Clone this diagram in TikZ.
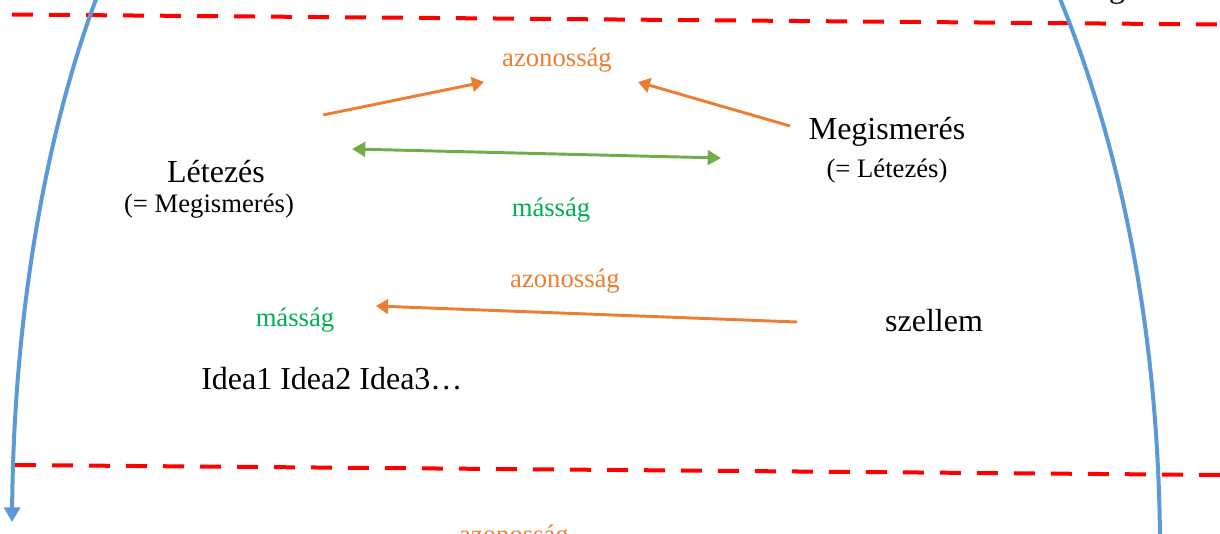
\documentclass[tikz,border=0pt]{standalone}
\usepackage{fontspec}
\setmainfont{Liberation Serif}
\usetikzlibrary{arrows.meta}
\definecolor{bl}{HTML}{5B9BD5}
\definecolor{orng}{HTML}{ED7D31}
\definecolor{grnA}{HTML}{70AD47}
\definecolor{grnT}{HTML}{00B050}
\tikzset{
  maintext/.style={font=\fontsize{24}{28}\selectfont, inner sep=0pt, anchor=base},
  smalltext/.style={font=\fontsize{20}{24}\selectfont, inner sep=0pt, anchor=base},
  redline/.style={draw=red, line width=3pt, dash pattern=on 15.75pt off 12pt},
  blueline/.style={draw=bl, line width=3pt},
  oarrow/.style={draw=orng, line width=2.2pt, -{Triangle[length=9pt,width=11pt]}},
  garrow/.style={draw=grnA, line width=2.2pt, {Triangle[length=10pt,width=11pt]}-{Triangle[length=10pt,width=11pt]}},
}
\begin{document}
\begin{tikzpicture}[x=0.75pt,y=-0.75pt]
\useasboundingbox (0,0) rectangle (1220,534);
\clip (0,0) rectangle (1220,534);
% red dashed lines
\coordinate (t1) at (12,14.5);
\coordinate (t2) at (1220,24.5);
\coordinate (b1) at (15,465);
\coordinate (b2) at (1220,475);
\draw[redline] (t1) -- (t2);
\draw[redline] (b1) -- (b2);
% blue curves
\coordinate (l1) at (98,-6);
\coordinate (l2) at (12,522);
\draw[blueline, -{Triangle[length=11pt,width=12pt]}] (l1) .. controls (50,120) and (14,300) .. (l2);
\coordinate (r1) at (1058,-6);
\coordinate (r2) at (1160,540);
\draw[blueline] (r1) .. controls (1110,120) and (1158,300) .. (r2);
% texts
\node[smalltext, text=orng] (az1) at (557,67) {azonosság};
\node[maintext] (meg) at (887,140) {Megismerés};
\node[smalltext] (meg2) at (887,178) {(= Létezés)};
\node[maintext] (let) at (216,183) {Létezés};
\node[smalltext] (let2) at (209,213) {(= Megismerés)};
\node[smalltext, text=grnT] (mas1) at (551,217) {másság};
\node[smalltext, text=orng] (az2) at (565,288) {azonosság};
\node[maintext] (sz) at (934,332) {szellem};
\node[smalltext, text=grnT] (mas2) at (295,327) {másság};
\node[maintext, anchor=base west] (idea) at (201,389) {Idea1 Idea2 Idea3…};
\node[smalltext, text=orng] (az3) at (514,543) {azonosság};
\node[maintext] (gg) at (1117,-2) {g};
% arrows
\coordinate (a1s) at (323,115);
\coordinate (a1e) at (484,82);
\coordinate (a2s) at (790,126);
\coordinate (a2e) at (638,82);
\coordinate (g1) at (352,149);
\coordinate (g2) at (721,158);
\coordinate (a3s) at (797,322);
\coordinate (a3e) at (376,306);
\draw[oarrow] (a1s) -- (a1e);
\draw[oarrow] (a2s) -- (a2e);
\draw[garrow] (g1) -- (g2);
\draw[oarrow] (a3s) -- (a3e);
\end{tikzpicture}
\end{document}
